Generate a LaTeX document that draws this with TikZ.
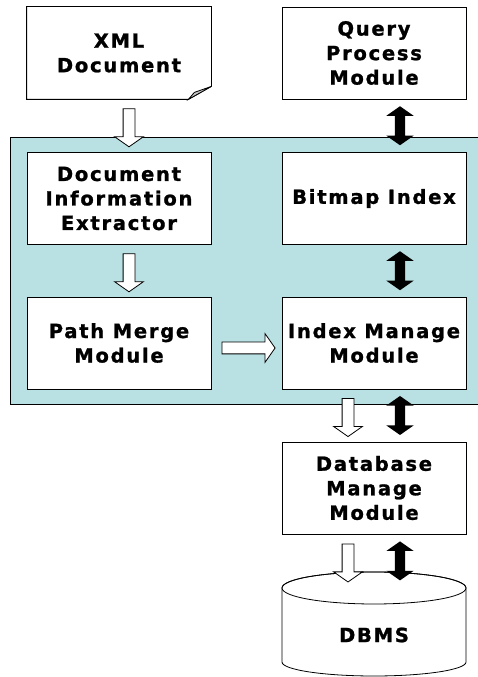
\documentclass[tikz,border=0pt]{standalone}
\usepackage{fontspec}
\setmainfont{DejaVu Sans}[LetterSpace=9, BoldFeatures={FakeBold=1.2}]
\usetikzlibrary{shapes.arrows,calc}

\definecolor{panelblue}{RGB}{185,224,226}

\tikzset{
  module/.style={draw, fill=white, line width=0.8pt, minimum width=184pt, minimum height=92pt,
    inner sep=0pt, align=center, font=\bfseries\fontsize{19.5}{24.5}\selectfont},
  flowarrow/.style={single arrow, draw, fill=white, line width=0.8pt, inner xsep=0pt, inner ysep=5.5pt,
    single arrow head extend=8.5pt, single arrow tip angle=110, minimum height=38pt},
  linkarrow/.style={double arrow, fill=black, inner xsep=0pt, inner ysep=5pt,
    double arrow head extend=8.5pt, double arrow tip angle=110, minimum height=39pt}
}

\begin{document}
\begin{tikzpicture}[x=1pt, y=1pt]
\useasboundingbox (0,0) rectangle (478,677);

% panel behind the inner modules
\draw[fill=panelblue, line width=0.8pt] (10,273) rectangle (490,540);

\node[module, draw=none] (xml) at (119,624) {XML\\Document};
\draw[line width=0.8pt] (xml.north west) -- (xml.north east) -- ($(xml.south east)+(0,13)$)
  -- ($(xml.south east)+(-23,0)$) -- (xml.south west) -- cycle;
\draw[fill=gray!45, line width=0.8pt] ($(xml.south east)+(0,13)$) -- ($(xml.south east)+(-17,7)$)
  -- ($(xml.south east)+(-23,0)$) -- cycle;

\node[module] (query) at (374,624) {Query\\Process\\Module};
\node[module] (die) at (119,478.5) {Document\\Information\\Extractor};
\node[module] (bitmap) at (374,478.5) {Bitmap Index};
\node[module] (pmm) at (119,334) {Path Merge\\Module};
\node[module] (imm) at (374,334) {Index Manage\\Module};
\node[module] (dbmm) at (374,189) {Database\\Manage\\Module};

% DBMS cylinder
\draw[fill=white, line width=0.8pt] (282,89) -- (282,15) arc[start angle=180, end angle=360, x radius=92, y radius=14]
  -- (466,89) arc[start angle=0, end angle=180, x radius=92, y radius=16] -- cycle;
\draw[line width=0.8pt] (374,89) ellipse[x radius=92, y radius=16];
\node[font=\bfseries\fontsize{19.5}{24.5}\selectfont] (dbms) at (374,42) {DBMS};

% connectors
\node[flowarrow, rotate=-90] (a1) at ($(xml.south)!0.5!(die.north)+(10,0)$) {};
\node[linkarrow, rotate=90] (b1) at ($(query.south)!0.5!(bitmap.north)+(26,0)$) {};
\node[flowarrow, rotate=-90] (a2) at ($(die.south)!0.5!(pmm.north)+(10,0)$) {};
\node[linkarrow, rotate=90] (b2) at ($(bitmap.south)!0.5!(imm.north)+(26,0)$) {};
\node[flowarrow, minimum height=53pt] (a3) at ($(pmm.east)!0.5!(imm.west)+(0,-5)$) {};
\node[flowarrow, rotate=-90] (a4) at ($(imm.south)!0.5!(dbmm.north)+(-26,0)$) {};
\node[linkarrow, rotate=90] (b4) at ($(imm.south)!0.5!(dbmm.north)+(26,0)$) {};
\node[flowarrow, rotate=-90] (a5) at ($(dbmm.south)+(-26,-26.5)$) {};
\node[linkarrow, rotate=90] (b5) at ($(dbmm.south)+(26,-26.5)$) {};
\end{tikzpicture}
\end{document}
